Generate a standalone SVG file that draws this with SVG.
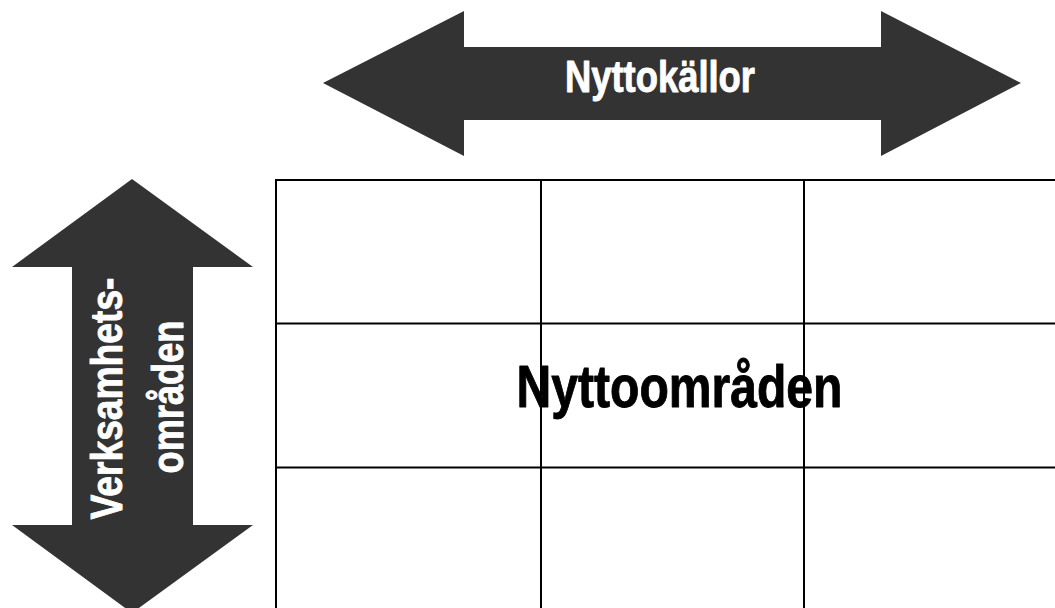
<svg xmlns="http://www.w3.org/2000/svg" width="1055" height="608" viewBox="0 0 1055 608">
<style>
.arrow{fill:#333333}
.grid{fill:none;stroke:#000000;stroke-width:2}
.lbl{font-family:"Liberation Sans Narrow","Liberation Sans",Arial,sans-serif;font-weight:bold;text-anchor:middle;stroke-width:0.9;stroke-linejoin:round}
.white{fill:#ffffff;stroke:#ffffff}
.black{fill:#000000;stroke:#000000}
</style>
<rect x="0" y="0" width="1055" height="608" fill="#ffffff"/>
<g id="grid">
<rect class="grid" x="276" y="180" width="800" height="450"/>
<line class="grid" x1="541" y1="180" x2="541" y2="630"/>
<line class="grid" x1="804" y1="180" x2="804" y2="630"/>
<line class="grid" x1="276" y1="323.5" x2="1076" y2="323.5"/>
<line class="grid" x1="276" y1="467.5" x2="1076" y2="467.5"/>
</g>
<g id="nyttokallor">
<polygon class="arrow" points="323,83 464,11 464,47 881,47 881,11 1021,83 881,156 881,120 464,120 464,156"/>
<text class="lbl white" x="660" y="92" font-size="44" textLength="190" lengthAdjust="spacingAndGlyphs">Nyttokällor</text>
</g>
<g id="verksamhetsomraden">
<polygon class="arrow" points="132,179 253,267 193,267 193,525 253,525 132,613 12,525 72,525 72,267 12,267"/>
<text class="lbl white" font-size="45" transform="translate(122,398.5) rotate(-90)" x="0" y="0" textLength="242" lengthAdjust="spacingAndGlyphs">Verksamhets-</text>
<text class="lbl white" font-size="45" transform="translate(183,397) rotate(-90)" x="0" y="0" textLength="153" lengthAdjust="spacingAndGlyphs">områden</text>
</g>
<g id="nyttoomraden">
<text class="lbl black" x="679.5" y="407" font-size="59" textLength="326" lengthAdjust="spacingAndGlyphs">Nyttoområden</text>
</g>
</svg>
